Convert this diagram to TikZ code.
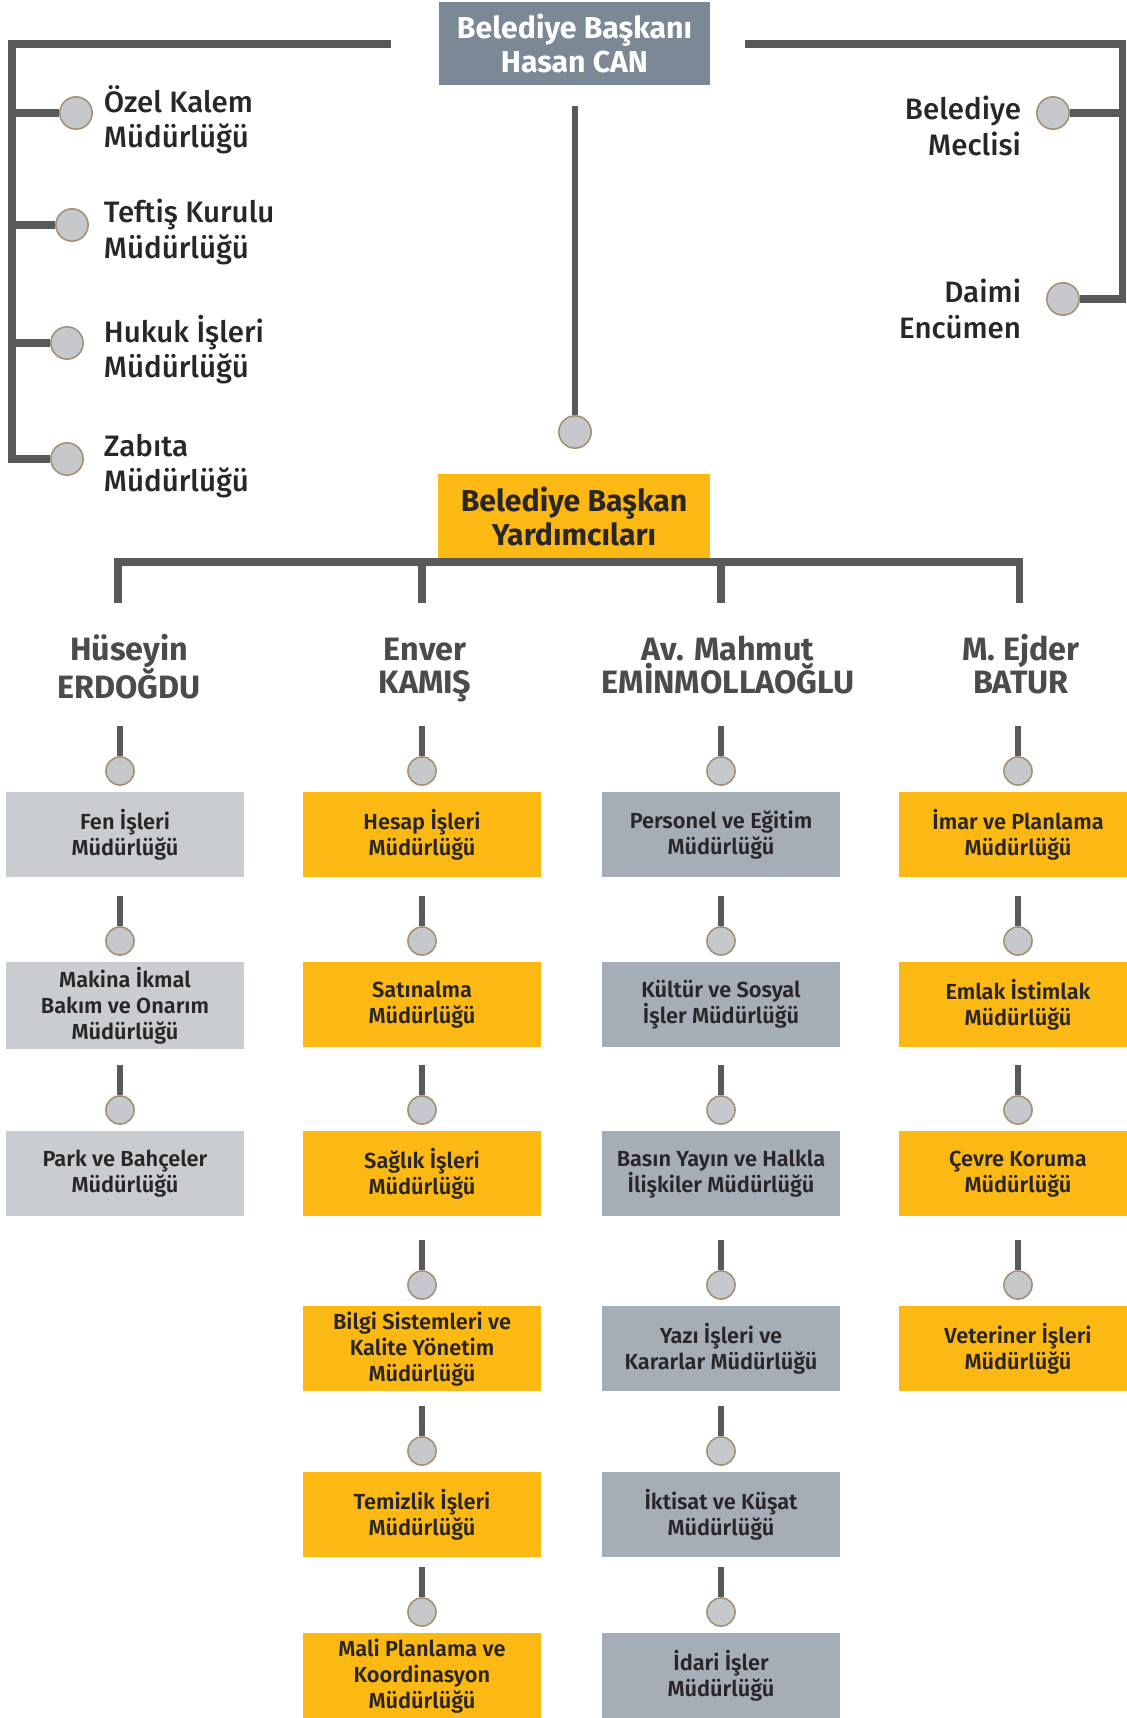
\documentclass[tikz,border=0pt]{standalone}
\usepackage{fontspec}
\setmainfont{Fira Sans}
\newfontfamily\medfont{Fira Sans}[UprightFont={* Medium}, BoldFont={* SemiBold}]
\usetikzlibrary{positioning, calc, backgrounds}
\definecolor{BarGray}{HTML}{58595B}
\definecolor{SunOrange}{HTML}{FDB913}
\definecolor{SlateBox}{HTML}{7B8895}
\definecolor{PaleGray}{HTML}{C9CDD2}
\definecolor{MidGray}{HTML}{A5ADB7}
\definecolor{KnobFill}{HTML}{C6C8CB}
\definecolor{KnobRim}{HTML}{A38F72}
\definecolor{NameGray}{HTML}{4A4B4D}
\definecolor{InkDark}{HTML}{2A2627}

\begin{document}
\begin{tikzpicture}[
  x=0.25mm, y=-0.25mm,
  bar/.style={draw=BarGray, line width=5pt},
  stem/.style={draw=BarGray, line width=4.6pt},
  knob/.style={circle, draw=KnobRim, fill=KnobFill, line width=1.1pt, minimum size=20pt, inner sep=0pt},
  bigknob/.style={knob, minimum size=23pt},
  headbox/.style={rectangle, minimum width=192.8pt, minimum height=59.5pt, align=center, font=\fontsize{21.5}{24}\selectfont\bfseries},
  unitbox/.style={rectangle, minimum width=169.3pt, minimum height=60.5pt, align=center, text=InkDark, font=\medfont\fontsize{15.5}{18.5}\selectfont\bfseries},
  sidetext/.style={text=InkDark, font=\medfont\fontsize{21}{25}\selectfont},
  deputy/.style={align=center, text=NameGray, font=\fontsize{23}{23.5}\selectfont\bfseries}
]
\useasboundingbox (0,0) rectangle (1126,1718);

% top
\node[headbox, fill=SlateBox, text=white] (mayor) at (574.5,43.5) {Belediye Başkanı\\Hasan CAN};
\node[headbox, fill=SunOrange, text=InkDark, minimum height=60.5pt] (deputies) at (574,516.5) {Belediye Başkan\\Yardımcıları};

\node[bigknob] (hub) at (575,432) {};
\coordinate (hubtop) at (575,106);
\begin{scope}[on background layer]
  \draw[stem] (hubtop) -- (hub);
\end{scope}

% left side
\coordinate (lt) at (391,44);
\coordinate (lc) at (12,44);
\foreach \n/\x/\y/\txt in {ozel/76/113/{Özel Kalem\\Müdürlüğü}, teftis/72/225/{Teftiş Kurulu\\Müdürlüğü}, hukuk/67/343/{Hukuk İşleri\\Müdürlüğü}, zabita/67/459/{Zabıta\\Müdürlüğü}} {
  \node[bigknob] (\n) at (\x,\y) {};
  \node[sidetext, align=left, anchor=west] (\n-t) at (99,\y+7) {\txt};
}
\begin{scope}[on background layer]
  \draw[bar] (lt) -- (lc) |- (zabita);
  \foreach \n in {ozel, teftis, hukuk}
    \draw[bar] (lc |- \n) -- (\n);
\end{scope}

% right side
\coordinate (rt) at (745,44);
\coordinate (rc) at (1122,44);
\node[bigknob] (meclis) at (1053,113) {};
\node[bigknob] (daimi) at (1063,299) {};
\node[sidetext, align=right, anchor=east] (meclis-t) at (1026,126) {Belediye\\Meclisi};
\node[sidetext, align=right, anchor=east] (daimi-t) at (1026,309) {Daimi\\Encümen};
\begin{scope}[on background layer]
  \draw[bar] (rt) -- (rc) |- (daimi);
  \draw[bar] (rc |- meclis) -- (meclis);
\end{scope}

% deputies
\coordinate (spine) at (0,562);
\foreach \i/\x/\nx/\ny/\txt in {1/118/129/629/{Hüseyin\\ERDOĞDU}, 2/422/425/633/{Enver\\KAMIŞ}, 3/721/728/631/{Av. Mahmut\\EMİNMOLLAOĞLU}, 4/1019/1021/629/{M. Ejder\\BATUR}} {
  \coordinate (drop\i) at (\x,603);
  \node[deputy, anchor=north] (dep\i) at (\nx,\ny) {\txt};
}
\draw[bar] (drop1) -- (drop1 |- spine) -- (drop4 |- spine) -- (drop4);
\draw[bar] (drop2) -- (drop2 |- spine);
\draw[bar] (drop3) -- (drop3 |- spine);

% units
\foreach \r/\top/\txt in {1/792/{Fen İşleri\\Müdürlüğü}, 2/962/{Makina İkmal\\Bakım ve Onarım\\Müdürlüğü}, 3/1131/{Park ve Bahçeler\\Müdürlüğü}} {
  \node[unitbox, fill=PaleGray, anchor=north] (a\r) at (125,\top) {\txt};
  \node[knob] (ka\r) at (120,\top-21) {};
  \coordinate (sa\r) at (120,\top-66);
  \draw[stem] (sa\r) -- (ka\r.north);
}
\foreach \r/\top/\txt in {1/792/{Hesap İşleri\\Müdürlüğü}, 2/962/{Satınalma\\Müdürlüğü}, 3/1131/{Sağlık İşleri\\Müdürlüğü}, 4/1306/{Bilgi Sistemleri ve\\Kalite Yönetim\\Müdürlüğü}, 5/1472/{Temizlik İşleri\\Müdürlüğü}, 6/1633/{Mali Planlama ve\\Koordinasyon\\Müdürlüğü}} {
  \node[unitbox, fill=SunOrange, anchor=north] (b\r) at (422,\top) {\txt};
  \node[knob] (kb\r) at (422,\top-21) {};
  \coordinate (sb\r) at (422,\top-66);
  \draw[stem] (sb\r) -- (kb\r.north);
}
\foreach \r/\top/\txt in {1/792/{Personel ve Eğitim\\Müdürlüğü}, 2/962/{Kültür ve Sosyal\\İşler Müdürlüğü}, 3/1131/{Basın Yayın ve Halkla\\İlişkiler Müdürlüğü}, 4/1306/{Yazı İşleri ve\\Kararlar Müdürlüğü}, 5/1472/{İktisat ve Küşat\\Müdürlüğü}, 6/1633/{İdari İşler\\Müdürlüğü}} {
  \node[unitbox, fill=MidGray, anchor=north] (c\r) at (721,\top) {\txt};
  \node[knob] (kc\r) at (721,\top-21) {};
  \coordinate (sc\r) at (721,\top-66);
  \draw[stem] (sc\r) -- (kc\r.north);
}
\foreach \r/\top/\txt in {1/792/{İmar ve Planlama\\Müdürlüğü}, 2/962/{Emlak İstimlak\\Müdürlüğü}, 3/1131/{Çevre Koruma\\Müdürlüğü}, 4/1306/{Veteriner İşleri\\Müdürlüğü}} {
  \node[unitbox, fill=SunOrange, anchor=north] (d\r) at (1018,\top) {\txt};
  \node[knob] (kd\r) at (1018,\top-21) {};
  \coordinate (sd\r) at (1018,\top-66);
  \draw[stem] (sd\r) -- (kd\r.north);
}

\end{tikzpicture}
\end{document}
